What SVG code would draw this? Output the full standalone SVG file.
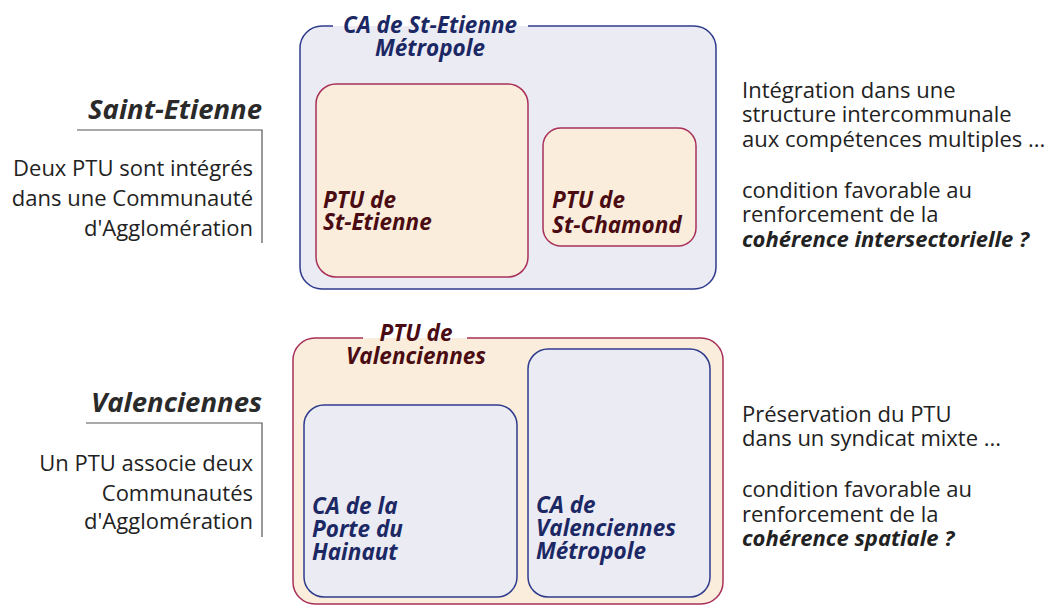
<svg xmlns="http://www.w3.org/2000/svg" width="1050" height="605" viewBox="0 0 1050 605">
<style>
.body{font-family:"Open Sans","Noto Sans",sans-serif;font-size:22px;fill:#222}
.bi{font-family:"Open Sans","Noto Sans",sans-serif;font-weight:bold;font-style:italic}
.head{font-size:27.5px;fill:#2a2a2a}
.navy{fill:#1c2864}
.maroon{fill:#4a0c12}
.lbl{font-size:22.5px}
.ca{fill:#ebebf4;stroke:#2f3b8c;stroke-width:1.5}
.ptu{fill:#faeddc;stroke:#a8305a;stroke-width:1.5}
.guide{fill:none;stroke:#555;stroke-width:1.2}
</style>
<rect width="1050" height="605" fill="#fff"/>

<g id="saint-etienne-legend">
<text class="bi head" x="262" y="119" text-anchor="end">Saint-Etienne</text>
<text class="body" text-anchor="end"><tspan x="253" y="176">Deux PTU sont intégrés</tspan><tspan x="253" y="206">dans une Communauté</tspan><tspan x="253" y="236">d'Agglomération</tspan></text>
</g>
<g id="valenciennes-legend">
<text class="bi head" x="262" y="412" text-anchor="end">Valenciennes</text>
<text class="body" text-anchor="end"><tspan x="253" y="471">Un PTU associe deux</tspan><tspan x="253" y="501">Communautés</tspan><tspan x="253" y="529">d'Agglomération</tspan></text>
</g>

<g id="connectors">
<path class="guide" d="M77,130 H262 V243"/>
<path class="guide" d="M86,423 H262 V537"/>
</g>

<g id="ca-st-etienne">
<rect x="300" y="26" width="416" height="263" rx="22" fill="#ebebf4"/>
<path d="M528,26 H694 A22,22 0 0 1 716,48 V267 A22,22 0 0 1 694,289 H322 A22,22 0 0 1 300,267 V48 A22,22 0 0 1 322,26 H333" fill="none" stroke="#2f3b8c" stroke-width="1.5"/>
<text class="bi lbl navy" text-anchor="middle"><tspan x="430" y="33">CA de St-Etienne</tspan><tspan x="430" y="56">Métropole</tspan></text>
</g>
<g id="ptu-st-etienne">
<rect class="ptu" x="316" y="84" width="212" height="193" rx="20"/>
<text class="bi lbl maroon"><tspan x="323" y="208">PTU de</tspan><tspan x="323" y="230">St-Etienne</tspan></text>
</g>
<g id="ptu-st-chamond">
<rect class="ptu" x="543" y="128" width="153" height="118" rx="18"/>
<text class="bi lbl maroon"><tspan x="552" y="208">PTU de</tspan><tspan x="552" y="233">St-Chamond</tspan></text>
</g>

<g id="ptu-valenciennes">
<rect x="293" y="338" width="430" height="266" rx="22" fill="#faeddc"/>
<path d="M467,338 H701 A22,22 0 0 1 723,360 V582 A22,22 0 0 1 701,604 H315 A22,22 0 0 1 293,582 V360 A22,22 0 0 1 315,338 H363" fill="none" stroke="#a8305a" stroke-width="1.5"/>
<text class="bi lbl maroon" text-anchor="middle"><tspan x="416" y="341">PTU de</tspan><tspan x="416" y="364">Valenciennes</tspan></text>
</g>
<g id="ca-porte-hainaut">
<rect class="ca" x="304" y="405" width="213" height="192" rx="20"/>
<text class="bi lbl navy"><tspan x="312" y="514">CA de la</tspan><tspan x="312" y="537">Porte du</tspan><tspan x="312" y="560">Hainaut</tspan></text>
</g>
<g id="ca-valenciennes-metropole">
<rect class="ca" x="528" y="349" width="182" height="248" rx="20"/>
<text class="bi lbl navy"><tspan x="536" y="513">CA de</tspan><tspan x="536" y="536">Valenciennes</tspan><tspan x="536" y="559">Métropole</tspan></text>
</g>

<g id="text-st-etienne">
<text class="body"><tspan x="742" y="98">Intégration dans une</tspan><tspan x="742" y="122">structure intercommunale</tspan><tspan x="742" y="147">aux compétences multiples ...</tspan><tspan x="742" y="198">condition favorable au</tspan><tspan x="742" y="222">renforcement de la</tspan><tspan x="742" y="247" class="bi">cohérence intersectorielle ?</tspan></text>
</g>
<g id="text-valenciennes">
<text class="body"><tspan x="742" y="422">Préservation du PTU</tspan><tspan x="742" y="446">dans un syndicat mixte ...</tspan><tspan x="742" y="497">condition favorable au</tspan><tspan x="742" y="522">renforcement de la</tspan><tspan x="742" y="546" class="bi">cohérence spatiale ?</tspan></text>
</g>
</svg>
